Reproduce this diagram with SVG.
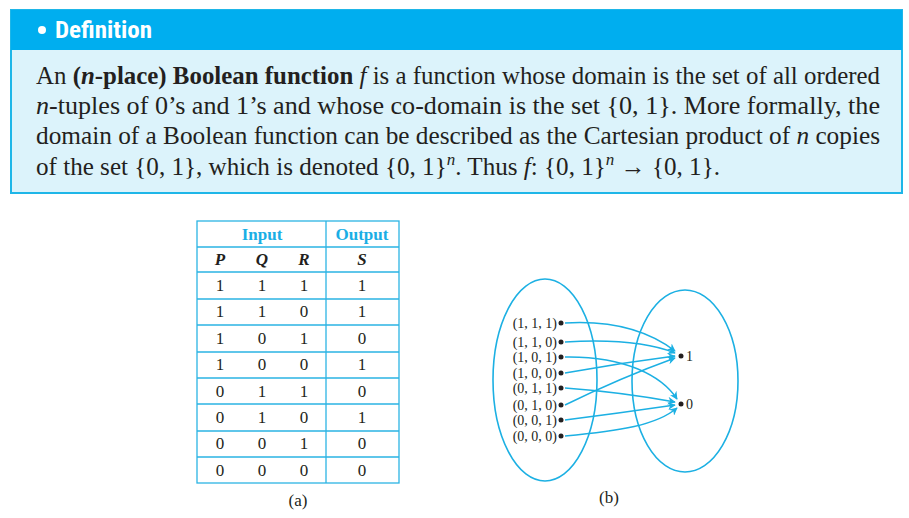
<svg xmlns="http://www.w3.org/2000/svg" width="909" height="518" viewBox="0 0 909 518">
<style>
.def{font-family:"Liberation Serif","Times New Roman",serif;font-size:25px;fill:#231f20}
.hd{font-family:"Liberation Sans Narrow","Roboto Condensed","Liberation Sans",sans-serif;font-weight:bold;font-size:23px;fill:#fff}
.tb{font-family:"Liberation Serif","Times New Roman",serif;font-size:17px;fill:#231f20;text-anchor:middle}
.th{font-weight:bold;fill:#1aaee5}
.var{font-weight:bold;font-style:italic}
.gl{stroke:#2bb4e4;stroke-width:1.3;fill:none}
.lbl{font-family:"Liberation Serif","Times New Roman",serif;font-size:14px;fill:#231f20}
.arr{stroke:#1cb0e3;stroke-width:1.4;fill:none;marker-end:url(#ah)}
.ell{stroke:#1cb0e3;stroke-width:1.6;fill:none}
</style>
<defs>
<marker id="ah" viewBox="0 0 10 10" refX="9" refY="5" markerWidth="8" markerHeight="8" orient="auto" markerUnits="userSpaceOnUse">
<path d="M0,0 L10,5 L0,10 L3,5 Z" fill="#1cb0e3"/>
</marker>
</defs>
<rect width="909" height="518" fill="#fff"/>
<g id="definition">
<rect x="11" y="10" width="891" height="183" fill="#dcf3fb" stroke="#1eb6e8" stroke-width="2"/>
<rect x="11" y="10" width="891" height="40" fill="#00aeef"/>
<circle cx="42" cy="30" r="4" fill="#fff"/>
<text class="hd" x="55" y="38" textLength="97" lengthAdjust="spacingAndGlyphs">Definition</text>
<text class="def" x="36" y="84" textLength="844" lengthAdjust="spacingAndGlyphs">An <tspan font-weight="bold">(<tspan font-style="italic">n</tspan>-place) Boolean function</tspan> <tspan font-style="italic">f</tspan> is a function whose domain is the set of all ordered</text>
<text class="def" x="36" y="114" textLength="844" lengthAdjust="spacingAndGlyphs"><tspan font-style="italic">n</tspan>-tuples of 0’s and 1’s and whose co-domain is the set {0, 1}. More formally, the</text>
<text class="def" x="36" y="144" textLength="844" lengthAdjust="spacingAndGlyphs">domain of a Boolean function can be described as the Cartesian product of <tspan font-style="italic">n</tspan> copies</text>
<text class="def" x="36" y="175" textLength="684" lengthAdjust="spacingAndGlyphs">of the set {0, 1}, which is denoted {0, 1}<tspan font-style="italic" font-size="17" dy="-10">n</tspan><tspan dy="10">. Thus </tspan><tspan font-style="italic">f</tspan>: {0, 1}<tspan font-style="italic" font-size="17" dy="-10">n</tspan><tspan dy="10"> → {0, 1}.</tspan></text>
</g>
<g id="table">
<rect class="gl" x="197" y="221" width="202" height="262"/>
<line class="gl" x1="326" y1="221" x2="326" y2="483"/>
<path class="gl" d="M197,247H399M197,272H399M197,299H399M197,325H399M197,352H399M197,378H399M197,404H399M197,431H399M197,457H399"/>
<text class="tb th" x="262" y="240">Input</text>
<text class="tb th" x="362" y="240">Output</text>
<text class="tb var" x="220" y="265">P</text>
<text class="tb var" x="262" y="265">Q</text>
<text class="tb var" x="304" y="265">R</text>
<text class="tb var" x="362" y="265">S</text>
<g class="tb">
<text x="220" y="291">1</text><text x="262" y="291">1</text><text x="304" y="291">1</text><text x="362" y="291">1</text>
<text x="220" y="317">1</text><text x="262" y="317">1</text><text x="304" y="317">0</text><text x="362" y="317">1</text>
<text x="220" y="344">1</text><text x="262" y="344">0</text><text x="304" y="344">1</text><text x="362" y="344">0</text>
<text x="220" y="370">1</text><text x="262" y="370">0</text><text x="304" y="370">0</text><text x="362" y="370">1</text>
<text x="220" y="397">0</text><text x="262" y="397">1</text><text x="304" y="397">1</text><text x="362" y="397">0</text>
<text x="220" y="423">0</text><text x="262" y="423">1</text><text x="304" y="423">0</text><text x="362" y="423">1</text>
<text x="220" y="449">0</text><text x="262" y="449">0</text><text x="304" y="449">1</text><text x="362" y="449">0</text>
<text x="220" y="476">0</text><text x="262" y="476">0</text><text x="304" y="476">0</text><text x="362" y="476">0</text>
</g>
<text class="tb" x="298" y="506" font-size="16">(a)</text>
</g>
<g id="domain">
<ellipse class="ell" cx="545" cy="380" rx="52" ry="101"/>
<g class="lbl" text-anchor="end">
<text x="557" y="328">(1, 1, 1)</text>
<text x="557" y="347">(1, 1, 0)</text>
<text x="557" y="362">(1, 0, 1)</text>
<text x="557" y="378">(1, 0, 0)</text>
<text x="557" y="393">(0, 1, 1)</text>
<text x="557" y="410">(0, 1, 0)</text>
<text x="557" y="425">(0, 0, 1)</text>
<text x="557" y="441">(0, 0, 0)</text>
</g>
<g fill="#231f20">
<circle cx="561" cy="323" r="2.5"/><circle cx="561" cy="342" r="2.5"/><circle cx="561" cy="357" r="2.5"/><circle cx="561" cy="373" r="2.5"/>
<circle cx="561" cy="388" r="2.5"/><circle cx="561" cy="405" r="2.5"/><circle cx="561" cy="420" r="2.5"/><circle cx="561" cy="436" r="2.5"/>
</g>
</g>
<g id="codomain">
<ellipse class="ell" cx="685" cy="381" rx="53" ry="91"/>
<circle cx="681" cy="356" r="2.5" fill="#231f20"/>
<circle cx="681" cy="404" r="2.5" fill="#231f20"/>
<text class="lbl" x="686" y="361" font-size="15">1</text>
<text class="lbl" x="686" y="409" font-size="15">0</text>
</g>
<g id="connectors">
<path class="arr" d="M565,323 C615,320 650,332 675,351"/>
<path class="arr" d="M565,342 C615,339 650,343 675,353"/>
<path class="arr" d="M565,357 C625,356 662,376 677,399"/>
<path class="arr" d="M565,373 Q620,363 675,356"/>
<path class="arr" d="M565,388 Q620,392 675,402"/>
<path class="arr" d="M565,405 Q620,378 675,358"/>
<path class="arr" d="M565,420 Q620,413 675,405"/>
<path class="arr" d="M565,436 C620,431 657,425 677,408"/>
</g>
<text class="tb" x="609" y="503" font-size="16">(b)</text>
</svg>
